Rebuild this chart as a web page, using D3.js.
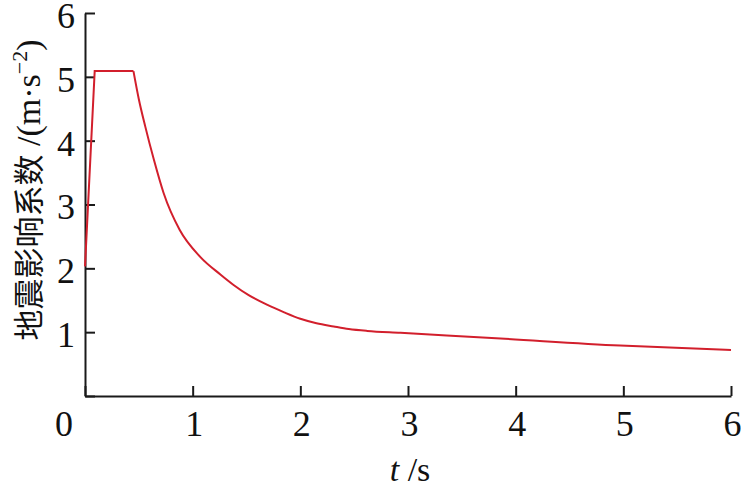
<!DOCTYPE html>
<meta charset="utf-8">
<style>
body { margin: 0; background: #fff; }
.tick text, .lbl { font-family: "Liberation Serif", serif; font-size: 36px; fill: #111; }
.axis path, .axis line { stroke: #1a1a1a; stroke-width: 2; }
.title { font-family: "Liberation Serif", serif; font-size: 34px; fill: #111; }
</style>
<body>
<svg width="741" height="488"></svg>
<script src="https://d3js.org/d3.v7.min.js"></script>
<script>
// data
var rampT = [0, 0.09, 0.45];
var rampA = [2.03, 5.09, 5.09];
var decayT = [0.45, 0.5, 0.56, 0.64, 0.73, 0.88, 1.07, 1.26, 1.38, 1.52, 1.69, 1.85, 2.0, 2.15, 2.31, 2.45, 2.62, 2.93, 3.86, 4.97, 6];
var decayA = [5.09, 4.65, 4.22, 3.70, 3.18, 2.60, 2.18, 1.90, 1.74, 1.58, 1.43, 1.31, 1.21, 1.14, 1.09, 1.05, 1.02, 0.99, 0.90, 0.79, 0.72];
var xTicks = [0, 1, 2, 3, 4, 5, 6];
var yTicks = [0, 1, 2, 3, 4, 5, 6];

var svg = d3.select("svg"),
    margin = {top: 13, left: 85},
    width = 731 - margin.left,
    height = 396 - margin.top;

var x = d3.scaleLinear().domain([0, 6]).range([0, width]),
    y = d3.scaleLinear().domain([0, 6]).range([height, 0]);

var g = svg.append("g")
    .attr("transform", "translate(" + margin.left + "," + margin.top + ")");

var xAxis = g.append("g")
    .attr("class", "axis")
    .attr("transform", "translate(0," + height + ")")
    .call(d3.axisBottom(x).tickValues(xTicks).tickSize(-10).tickSizeOuter(0)
      .tickFormat(function(d) { return d === 0 ? "" : d; }));
xAxis.selectAll(".tick text").attr("dy", "0").attr("y", 40).attr("dx", 1);

var yAxis = g.append("g")
    .attr("class", "axis")
    .call(d3.axisLeft(y).tickValues(yTicks).tickSize(-10).tickSizeOuter(0)
      .tickFormat(function(d) { return d === 0 ? "" : d; }));
yAxis.selectAll(".tick text").attr("x", -10).attr("dy", "0.4em");

// shared origin label
g.append("text")
    .attr("class", "lbl")
    .attr("x", -12)
    .attr("y", height + 40)
    .attr("text-anchor", "end")
    .text("0");

var line = d3.line()
    .x(function(d) { return x(d[0]); })
    .y(function(d) { return y(d[1]); });

g.append("path")
    .datum(rampT.map(function(t, i) { return [t, rampA[i]]; }))
    .attr("fill", "none")
    .attr("stroke", "#d21f2c")
    .attr("stroke-width", 2)
    .attr("d", line);

g.append("path")
    .datum(decayT.map(function(t, i) { return [t, decayA[i]]; }))
    .attr("fill", "none")
    .attr("stroke", "#d21f2c")
    .attr("stroke-width", 2)
    .attr("d", line.curve(d3.curveMonotoneX));

// axis titles
var xt = svg.append("text")
    .attr("class", "title")
    .attr("x", 410)
    .attr("y", 481)
    .attr("text-anchor", "middle");
xt.append("tspan").style("font-style", "italic").text("t");
xt.append("tspan").text(" /s");

var yt = svg.append("text")
    .attr("class", "title")
    .attr("transform", "translate(40,190) rotate(-90)")
    .attr("text-anchor", "middle");
yt.append("tspan").style("font-family", "Noto Sans CJK SC").style("font-size", "31px").text("地震影响系数");
yt.append("tspan").text(" /(m·s");
yt.append("tspan").attr("dy", -13).style("font-size", "22px").text("−2");
yt.append("tspan").attr("dy", 13).text(")");
</script>
</body>
